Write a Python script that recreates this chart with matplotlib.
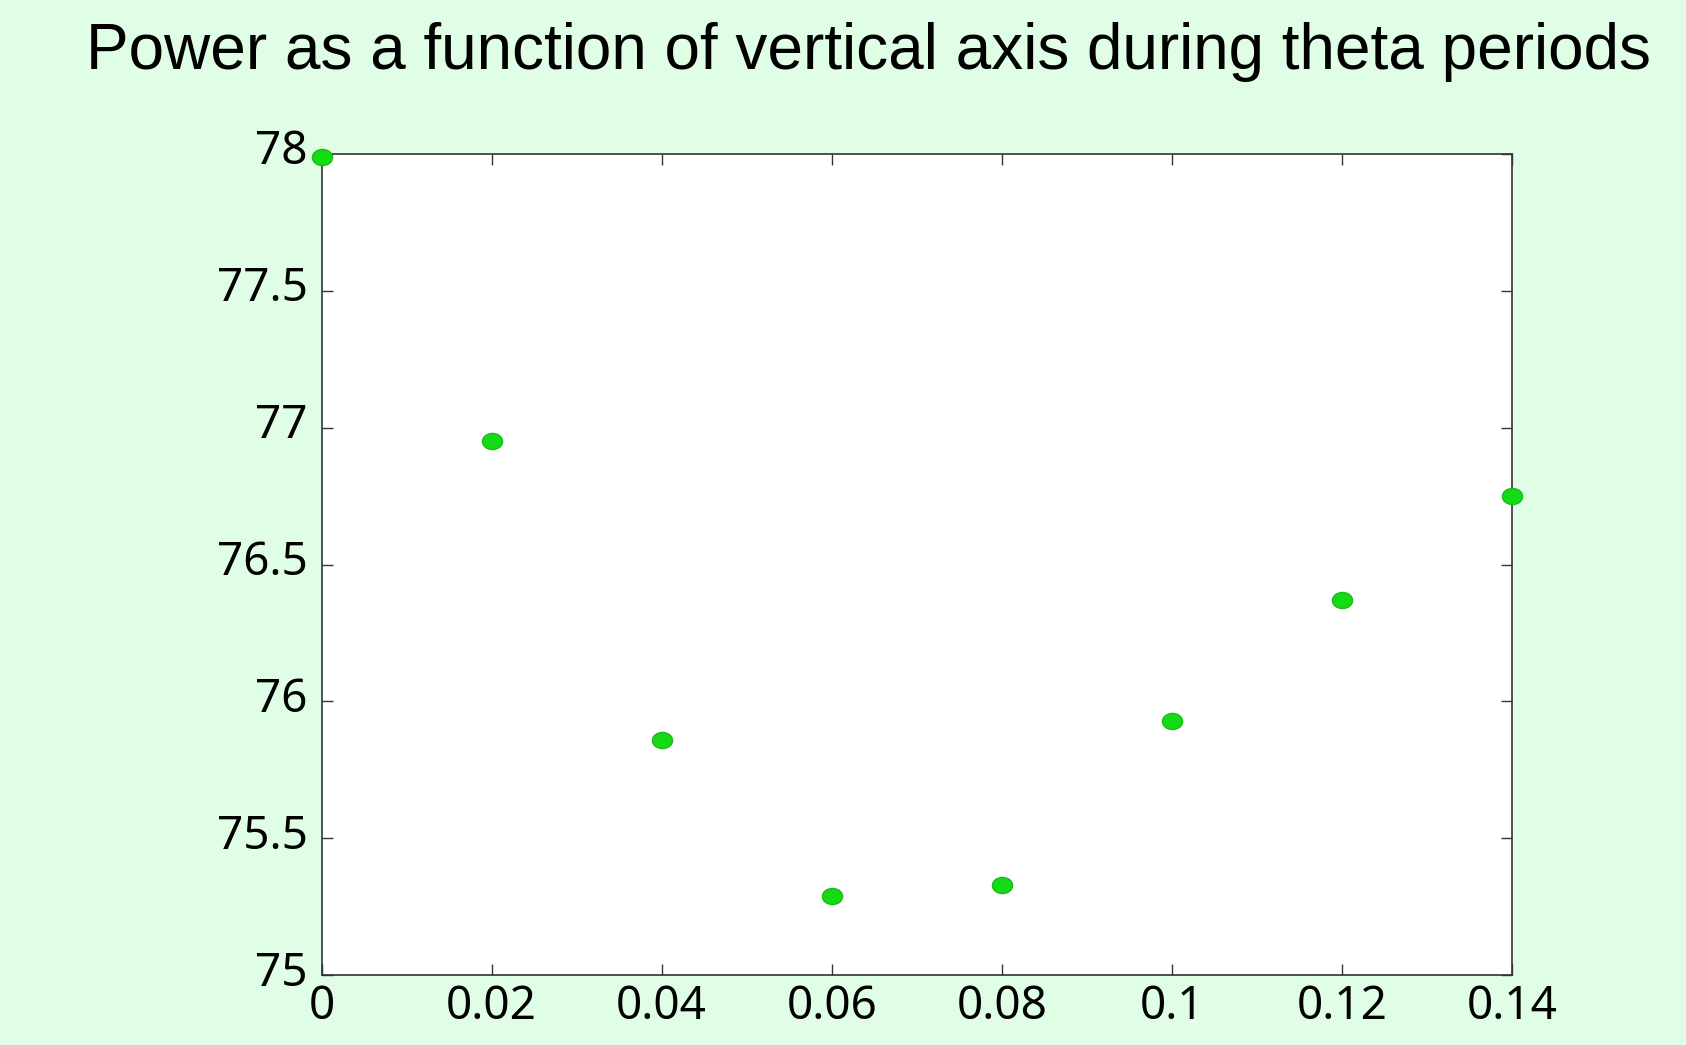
import matplotlib
matplotlib.use('Agg')
import matplotlib.pyplot as plt
from matplotlib.path import Path
from matplotlib.transforms import Affine2D, ScaledTranslation

# data
positions = [0.0, 0.02, 0.04, 0.06, 0.08, 0.10, 0.12, 0.14]
power = [77.99, 76.95, 75.86, 75.29, 75.33, 75.93, 76.37, 76.75]
xtick_vals = [0, 0.02, 0.04, 0.06, 0.08, 0.1, 0.12, 0.14]
xtick_labels = ['0', '0.02', '0.04', '0.06', '0.08', '0.1', '0.12', '0.14']
ytick_vals = [75, 75.5, 76, 76.5, 77, 77.5, 78]
ytick_labels = ['75', '75.5', '76', '76.5', '77', '77.5', '78']

bg = '#e0fee6'
fig = plt.figure(figsize=(16.86, 10.45), dpi=100, facecolor=bg)
ax = fig.add_axes([0.1907, 0.0667, 0.7061, 0.7861])
ax.set_facecolor('white')

# slightly wide ellipse marker
oval = Path.unit_circle().transformed(Affine2D().scale(1.25, 1.0))
ax.plot(positions, power, linestyle='none', marker=oval, markersize=14.5,
        markerfacecolor='#14dc14', markeredgecolor='#1fb81f', markeredgewidth=1,
        clip_on=False, zorder=5)

ax.set_xlim(0, 0.14)
ax.set_ylim(75, 78)
ax.set_xticks(xtick_vals)
ax.set_xticklabels(xtick_labels)
ax.set_yticks(ytick_vals)
ax.set_yticklabels(ytick_labels)

ax.tick_params(direction='in', length=8, width=1, color='#333333',
               top=True, right=True)
ax.tick_params(axis='y', pad=10)
ax.tick_params(axis='x', pad=6)
up = ScaledTranslation(0, 7 / 100, fig.dpi_scale_trans)
for lab in ax.get_yticklabels():
    lab.set_fontfamily('Noto Sans')
    lab.set_fontsize(33)
    lab.set_transform(lab.get_transform() + up)
for lab in ax.get_xticklabels():
    lab.set_fontfamily('Noto Sans')
    lab.set_fontsize(33)
for s in ax.spines.values():
    s.set_color('#333333')
    s.set_linewidth(1.2)

fig.text(0.515, 0.950, 'Power as a function of vertical axis during theta periods',
         ha='center', va='center', fontsize=46, family='Liberation Sans')

fig.savefig('out.png', dpi=100, facecolor=bg)
